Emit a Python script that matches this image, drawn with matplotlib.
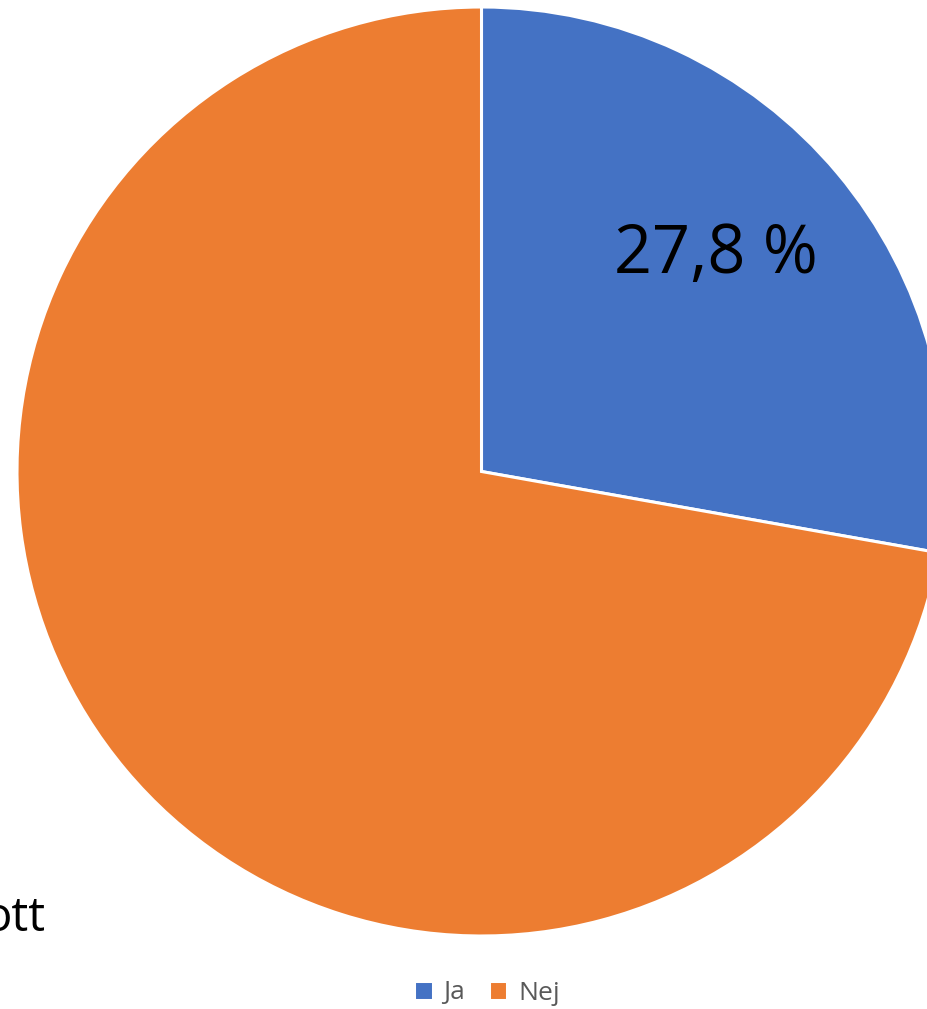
import numpy as np
import matplotlib.pyplot as plt

plt.rcParams['font.family'] = ['Open Sans', 'DejaVu Sans']

labels = ['Ja', 'Nej']
values = [27.8, 72.2]
colors = ['#4472C4', '#ED7D31']

W, H = 927, 1009
cx, cy, r = 481.5, 471.5, 464.5   # pie centre / radius in pixels (from top)

fig = plt.figure(figsize=(W/100, H/100), dpi=100)
ax = fig.add_axes([(cx-r)/W, (H-cy-r)/H, 2*r/W, 2*r/H])

def fmt(p):
    if p < 50:
        return f'{p:.1f} %'.replace('.', ',')
    return ''

wedges, texts, autotexts = ax.pie(values, colors=colors, startangle=90, counterclock=False,
                                  autopct=fmt, pctdistance=0.70, radius=1,
                                  wedgeprops={'edgecolor': 'white', 'linewidth': 2.2})
for t in autotexts:
    t.set_fontsize(48)
    t.set_color('black')
# excel puts the label a bit higher than the wedge midline
autotexts[0].set_position((0.505, 0.466))
ax.set_xlim(-1, 1)
ax.set_ylim(-1, 1)
ax.set_aspect('auto')
ax.axis('off')

# cut-off label at the lower left
fig.text(46/W, 1 - 918/H, 'ott', ha='right', va='center', fontsize=34, color='black')

leg = fig.legend(wedges, labels, loc='center', bbox_to_anchor=(487/W, 1 - 993/H), ncol=2,
                 frameon=False, fontsize=19, handlelength=0.7, handleheight=0.7,
                 handletextpad=0.4, columnspacing=0.9)
for t in leg.get_texts():
    t.set_color('#595959')

fig.savefig('out.png', dpi=100)
